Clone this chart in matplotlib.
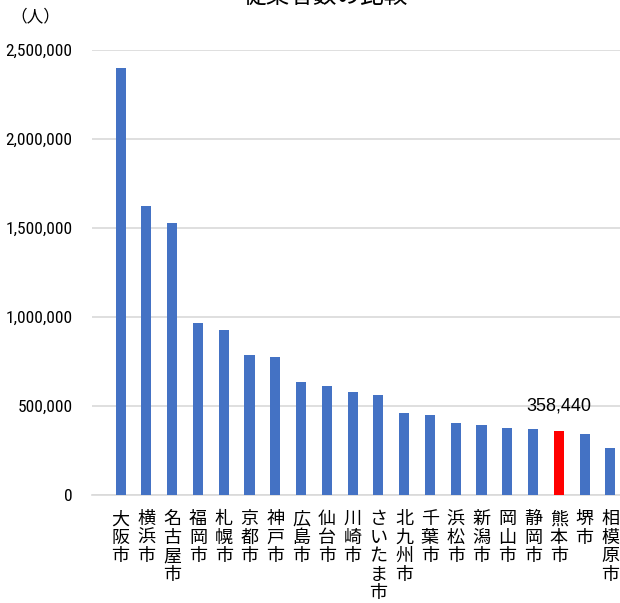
import matplotlib
matplotlib.use("Agg")
import matplotlib.pyplot as plt
from matplotlib.ticker import FuncFormatter

# 従業者数 (人)
cities = ["大阪市", "横浜市", "名古屋市", "福岡市", "札幌市", "京都市", "神戸市",
          "広島市", "仙台市", "川崎市", "さいたま市", "北九州市", "千葉市", "浜松市",
          "新潟市", "岡山市", "静岡市", "熊本市", "堺市", "相模原市"]
workers = [2397000, 1622000, 1528000, 968000, 929000, 787000, 773000,
           635000, 611000, 579000, 562000, 459000, 449000, 403000,
           393000, 378000, 371000, 358440, 341000, 262000]
highlight = "熊本市"
yticks = [0, 500000, 1000000, 1500000, 2000000, 2500000]

jp = ["Noto Sans CJK JP", "DejaVu Sans"]
num = ["DejaVu Sans Condensed", "Liberation Sans Narrow", "Roboto Condensed", "DejaVu Sans"]

fig = plt.figure(figsize=(6.2, 6.03), dpi=100)
ax = fig.add_axes([92 / 620, 108 / 603, 547 / 620, 445 / 603])

colors = ["#FF0000" if c == highlight else "#4472C4" for c in cities]
x = list(range(len(cities)))
ax.bar(x, workers, width=0.39, color=colors, zorder=3)

ax.set_xlim(-1.11, len(cities) - 1 + 1.11)
ax.set_ylim(0, 2500000)
ax.set_yticks(yticks)
ax.yaxis.set_major_formatter(FuncFormatter(lambda v, p: f"{int(v):,}"))
ax.grid(axis="y", color="#d9d9d9", linewidth=1.2, zorder=0)
ax.set_axisbelow(True)
for s in ["top", "right", "left"]:
    ax.spines[s].set_visible(False)
ax.spines["bottom"].set_color("#d9d9d9")
ax.spines["bottom"].set_linewidth(1.2)

ax.tick_params(axis="y", length=0, pad=14)
ax.tick_params(axis="x", length=0, pad=11)
for lab in ax.get_yticklabels():
    lab.set_family(num)
    lab.set_fontsize(12.5)

ax.set_xticks(x)
ax.set_xticklabels(["\n".join(c) for c in cities], family=jp, fontsize=13,
                   linespacing=1.03, va="top")

i = cities.index(highlight)
ax.annotate(f"{workers[i]:,}", (x[i], workers[i]), xytext=(0, 18),
            textcoords="offset points", ha="center", va="center",
            family=["Liberation Sans", "DejaVu Sans"], fontsize=13)

fig.text(325 / 620, 1 + 4 / 603, "従業者数の比較", ha="center", va="center",
         family=jp, fontsize=17)
fig.text(35 / 620, 1 - 17 / 603, "（人）", ha="center", va="center",
         family=jp, fontsize=12)

fig.savefig("out.png", dpi=100)
